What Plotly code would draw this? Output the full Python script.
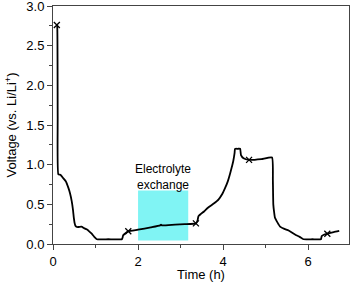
import plotly.graph_objects as go

time_h = [0.09, 0.10, 0.11, 0.125, 0.18, 0.24, 0.30, 0.36, 0.40, 0.44, 0.47, 0.49, 0.51, 0.53, 0.56, 0.60, 0.67,
          0.73, 0.79, 0.85, 0.91, 0.97, 1.03, 1.30, 1.62, 1.64, 1.65, 1.69, 1.77,
          2.0, 2.3, 2.52, 2.54, 2.56, 2.87, 3.1, 3.36, 3.40, 3.42,
          3.55, 3.65, 3.78, 3.89, 3.98, 4.05, 4.11, 4.16, 4.20, 4.24, 4.27, 4.28, 4.34, 4.40,
          4.42, 4.48, 4.61, 4.90, 5.15, 5.17, 5.18, 5.20, 5.22, 5.28, 5.34, 5.44, 5.54, 5.69, 5.80, 5.89,
          6.10, 6.30, 6.31, 6.32, 6.38, 6.45, 6.60, 6.73]
voltage = [2.76, 2.74, 1.60, 0.88, 0.87, 0.83, 0.79, 0.71, 0.64, 0.54, 0.43, 0.33, 0.26, 0.227, 0.215, 0.214, 0.22,
           0.20, 0.185, 0.16, 0.13, 0.09, 0.06, 0.06, 0.06, 0.09, 0.11, 0.13, 0.16,
           0.18, 0.21, 0.235, 0.245, 0.235, 0.245, 0.25, 0.26, 0.30, 0.35,
           0.41, 0.46, 0.51, 0.56, 0.63, 0.71, 0.79, 0.88, 0.96, 1.05, 1.15, 1.20, 1.20, 1.20,
           1.12, 1.08, 1.06, 1.07, 1.09, 0.80, 0.50, 0.40, 0.33, 0.27, 0.22, 0.19, 0.17, 0.12, 0.09, 0.06,
           0.06, 0.06, 0.08, 0.10, 0.12, 0.13, 0.15, 0.165]

marker_time = [0.09, 1.77, 3.36, 4.61, 6.45]
marker_voltage = [2.76, 0.16, 0.26, 1.06, 0.13]

exchange_start, exchange_end = 2.0, 3.18
exchange_vmin, exchange_vmax = 0.045, 0.675

x_ticks = [0, 2, 4, 6]
y_ticks = [0.0, 0.5, 1.0, 1.5, 2.0, 2.5, 3.0]
y_tick_labels = ["0.0", "0.5", "1.0", "1.5", "2.0", "2.5", "3.0"]

FONT = "Liberation Sans, Arial"

fig = go.Figure()
fig.add_shape(type="rect", x0=exchange_start, x1=exchange_end, y0=exchange_vmin, y1=exchange_vmax,
              fillcolor="#80f4f4", line=dict(width=0), layer="below")
fig.add_trace(go.Scatter(x=time_h, y=voltage, mode="lines",
                         line=dict(color="black", width=1.8, shape="spline", smoothing=0.4),
                         showlegend=False, cliponaxis=False))
fig.add_trace(go.Scatter(x=marker_time, y=marker_voltage, mode="markers",
                         marker=dict(symbol="x-thin", size=6, line=dict(color="black", width=1.3)),
                         showlegend=False))
fig.add_annotation(x=2.59, y=0.85, text="Electrolyte<br>exchange", showarrow=False,
                   font=dict(family=FONT, size=12, color="black"), align="center")

axis_common = dict(showline=True, linecolor="#444", linewidth=1, mirror=True, ticks="outside",
                   ticklen=5, tickcolor="#444", showgrid=False, zeroline=False, automargin=False,
                   ticklabeloverflow="allow",
                   tickfont=dict(family=FONT, size=13, color="black"))
fig.update_xaxes(range=[0, 6.96], tickvals=x_ticks,
                 minor=dict(ticks="outside", ticklen=3, dtick=1, tick0=0, tickcolor="#444"),
                 title=dict(text="Time (h)", font=dict(family=FONT, size=13, color="black"), standoff=2),
                 **axis_common)
fig.update_yaxes(range=[0, 3.0], tickvals=y_ticks, ticktext=y_tick_labels,
                 minor=dict(ticks="outside", ticklen=3, dtick=0.25, tick0=0, tickcolor="#444"),
                 title=dict(text="Voltage (vs. Li/Li<sup>+</sup>)",
                            font=dict(family=FONT, size=13, color="black"), standoff=6),
                 **axis_common)
fig.update_layout(width=350, height=282, margin=dict(l=53, r=1, t=6, b=38, autoexpand=False),
                  plot_bgcolor="white", paper_bgcolor="white")
fig.write_html("out.html", config={"displayModeBar": False},
               post_script="document.body.style.margin='0';document.body.style.padding='0';")
